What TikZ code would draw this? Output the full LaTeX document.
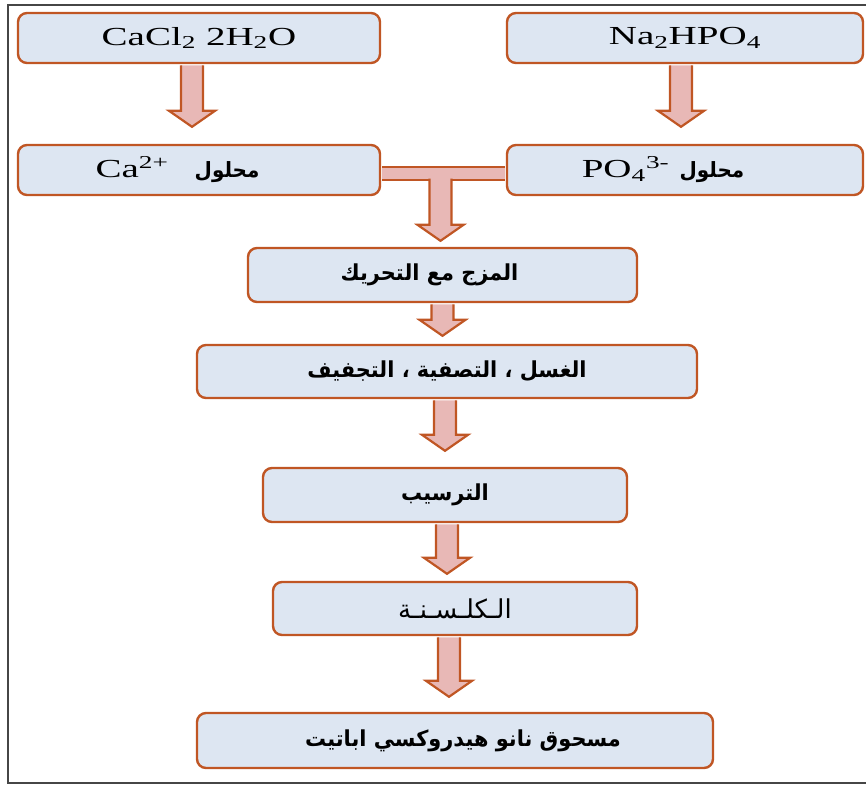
\documentclass[tikz,border=0pt]{standalone}
\usepackage{fontspec}
\usepackage{graphicx}
\setmainfont{Liberation Serif}
\newfontfamily\arabicfont[Script=Arabic]{DejaVu Sans}
\TeXXeTstate=1
\usetikzlibrary{calc}
\definecolor{boxblue}{RGB}{221,230,242}
\definecolor{rust}{RGB}{192,86,36}
\definecolor{pinkfill}{RGB}{232,184,182}
\definecolor{framegray}{RGB}{70,70,70}
\tikzset{
  procbox/.style={draw=rust, line width=2.4pt, fill=boxblue, rounded corners=9pt, inner sep=0pt},
  arrowbody/.style={draw=rust, line width=2.2pt, fill=pinkfill, line join=miter},
  latin/.style={font=\fontsize{26}{30}\selectfont},
  arab/.style={font=\fontsize{22}{26}\selectfont},
}
\newcommand{\wide}[1]{\scalebox{1.5}[1]{#1}}
\newcommand{\ar}[1]{\scalebox{0.95}[1]{\arabicfont\bfseries\beginR #1\endR}}
\newcommand{\fatarrow}[2]{%
  \draw[arrowbody] let \p1=(#1), \p2=(#2) in
    (\x1-11pt,\y1) -- (\x1-11pt,\y2+16pt) -- (\x1-23pt,\y2+16pt) -- (\x1,\y2)
    -- (\x1+23pt,\y2+16pt) -- (\x1+11pt,\y2+16pt) -- (\x1+11pt,\y1);}

\begin{document}
\begin{tikzpicture}[x=1pt,y=-1pt]
\useasboundingbox (0,0) rectangle (866,785);
% frame
\draw[framegray, line width=1.8pt] (866,5) -- (8,5) -- (8,783) -- (866,783);

% salts and their solutions
\node[procbox, latin, minimum width=362pt, minimum height=50pt] (cacl) at (199,38) {\wide{CaCl\textsubscript{2} 2H\textsubscript{2}O}};
\node[procbox, latin, minimum width=356pt, minimum height=50pt] (nahp) at (685,38) {\wide{Na\textsubscript{2}HPO\textsubscript{4}}};
\node[procbox, latin, minimum width=362pt, minimum height=50pt] (ca) at (199,170) {\wide{Ca\textsuperscript{2+}}\hspace{26pt}{\fontsize{21}{24}\selectfont\ar{محلول}}\hspace*{43pt}};
\node[procbox, latin, minimum width=356pt, minimum height=50pt] (po) at (685,170) {\wide{PO\textsubscript{4}\textsuperscript{3-}}\hspace{10pt}{\fontsize{21}{24}\selectfont\ar{محلول}}\hspace*{44pt}};

% process steps
\node[procbox, arab, minimum width=389pt, minimum height=54pt] (mix) at (442.5,275) {\ar{المزج مع التحريك}\hspace*{26pt}};
\node[procbox, arab, minimum width=500pt, minimum height=53pt] (wash) at (447,371.5) {\ar{الغسل ، التصفية ، التجفيف}};
\node[procbox, arab, minimum width=364pt, minimum height=54pt] (precip) at (445,495) {\ar{الترسيب}};
\node[procbox, font=\fontsize{26}{30}\selectfont, minimum width=364pt, minimum height=53pt] (calc) at (455,608.5) {{\arabicfont\beginR الـكلـسـنـة\endR}};
\node[procbox, arab, minimum width=516pt, minimum height=55pt] (powder) at (455,740.5) {\hspace*{16pt}\ar{مسحوق نانو هيدروكسي اباتيت}};

% merging bar
\fill[pinkfill] ([shift={(1.2pt,3pt)}]ca.east) rectangle ([shift={(-1.2pt,-10pt)}]po.west);
\draw[rust, line width=2.2pt] ([shift={(1.2pt,3pt)}]ca.east) -- ([shift={(-1.2pt,3pt)}]po.west)
  ([shift={(1.2pt,-10pt)}]ca.east) -- ([shift={(-1.2pt,-10pt)}]po.west);
\path (ca.east -| mix.north) ++(-2,10) coordinate (join);

% arrows
\fatarrow{[xshift=-7pt,yshift=-1.2pt]cacl.south}{[yshift=17pt]ca.north}
\fatarrow{[xshift=-4pt,yshift=-1.2pt]nahp.south}{[yshift=17pt]po.north}
\fatarrow{[yshift=1.5pt]join}{[yshift=6pt]mix.north}
\fatarrow{[yshift=-1.2pt]mix.south}{[yshift=8pt]wash.north}
\fatarrow{[xshift=-2pt,yshift=-1.2pt]wash.south}{[yshift=16pt]precip.north}
\fatarrow{[xshift=2pt,yshift=-1.2pt]precip.south}{[yshift=7pt]calc.north}
\fatarrow{[xshift=-6pt,yshift=-1.2pt]calc.south}{[yshift=15pt]powder.north}
\end{tikzpicture}
\end{document}
